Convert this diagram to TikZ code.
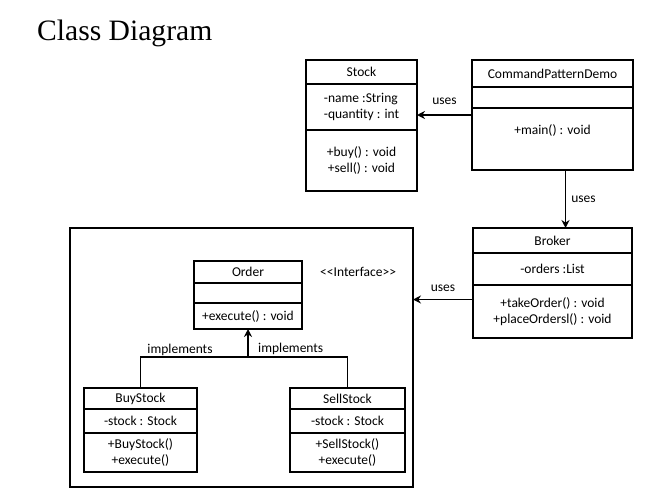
\documentclass[tikz,border=0pt]{standalone}
\usepackage{fontspec}
\setmainfont{Carlito}
\newfontfamily\titlefont{Liberation Serif}
\usetikzlibrary{positioning,arrows.meta}

\tikzset{
  part/.style={
    draw,
    line width=1.6pt,
    inner sep=0pt,
    outer sep=0pt,
    align=center,
    anchor=north,
    font=\fontsize{13.5}{16}\selectfont,
  },
  uses/.style={
    line width=1.6pt,
    -{Stealth[length=8pt, width=8pt]},
  },
  tag/.style={
    inner sep=0pt,
    font=\fontsize{13.5}{16}\selectfont,
  },
}

\begin{document}
\begin{tikzpicture}[x=1pt, y=-1pt]

      \useasboundingbox (0,0) rectangle (660,498);

      \node[anchor=base west, inner sep=0pt, font=\titlefont\fontsize{29.6}{32}\selectfont] (title) at (37,40) {Class Diagram};

      % Stock
      \node[part, minimum width=111pt, minimum height=24pt] (stock) at (361.5,60) {Stock};
      \node[part, minimum width=111pt, minimum height=46pt, align=left, below=0pt of stock] (stock-a) {-name :String\\-quantity : int};
      \node[part, minimum width=111pt, minimum height=61pt, below=0pt of stock-a] (stock-m) {+buy() : void\\+sell() : void};

      % CommandPatternDemo
      \node[part, minimum width=161pt, minimum height=27pt] (demo) at (552.5,60) {CommandPatternDemo};
      \node[part, minimum width=161pt, minimum height=21pt, below=0pt of demo] (demo-a) {};
      \node[part, minimum width=161pt, minimum height=62pt, text depth=19pt, below=0pt of demo-a] (demo-m) {+main() : void};

      % Broker
      \node[part, minimum width=159pt, minimum height=25pt] (broker) at (552.5,228) {Broker};
      \node[part, minimum width=159pt, minimum height=32pt, below=0pt of broker] (broker-a) {-orders :List};
      \node[part, minimum width=159pt, minimum height=53pt, below=0pt of broker-a] (broker-m) {+takeOrder() : void\\+placeOrdersl() : void};

      % frame round the commands
      \node[draw, line width=1.6pt, outer sep=0pt, anchor=north west, minimum width=343pt, minimum height=259pt] (frame) at (70,228) {};

      % Order
      \node[part, minimum width=108pt, minimum height=22pt] (order) at (248,261) {Order};
      \node[part, minimum width=108pt, minimum height=20pt, below=0pt of order] (order-a) {};
      \node[part, minimum width=108pt, minimum height=26pt, below=0pt of order-a] (order-m) {+execute() : void};
      \node[tag, right=18pt of order] (iface) {<{}<Interface>{}>};

      % BuyStock, SellStock
      \node[part, minimum width=113pt, minimum height=21pt] (buy) at (140.5,388) {BuyStock};
      \node[part, minimum width=113pt, minimum height=24pt, below=0pt of buy] (buy-a) {-stock : Stock};
      \node[part, minimum width=113pt, minimum height=39pt, below=0pt of buy-a] (buy-m) {+BuyStock()\\+execute()};

      \node[part, minimum width=115pt, minimum height=21pt] (sell) at (347.5,388) {SellStock};
      \node[part, minimum width=115pt, minimum height=24pt, below=0pt of sell] (sell-a) {-stock : Stock};
      \node[part, minimum width=115pt, minimum height=39pt, below=0pt of sell-a] (sell-m) {+SellStock()\\+execute()};

      % connectors
      \coordinate (u1) at ([yshift=-8pt]stock-a.east);
      \draw[uses] (demo-m.west |- u1) -- (u1) node[tag, midway, above=10pt] (uses-1) {uses};

      \coordinate (u2) at ([xshift=13pt]demo-m.south);
      \draw[uses] (u2) -- (u2 |- broker.north) node[tag, midway, right=5pt] (uses-2) {uses};

      \coordinate (u3) at ([yshift=12pt]broker-m.west);
      \draw[uses] (u3) -- (u3 -| frame.east) node[tag, midway, above=7pt] (uses-3) {uses};

      \coordinate (join) at (order-m.south |- 0,357);
      \draw[line width=1.6pt] (buy.north) |- (join) -| (sell.north);
      \draw[uses] (join) -- (order-m.south);
      \node[tag, anchor=base] (impl-l) at (180,353) {implements};
      \node[tag, anchor=base west] (impl-r) at (258,352) {implements};

    \end{tikzpicture}
\end{document}
